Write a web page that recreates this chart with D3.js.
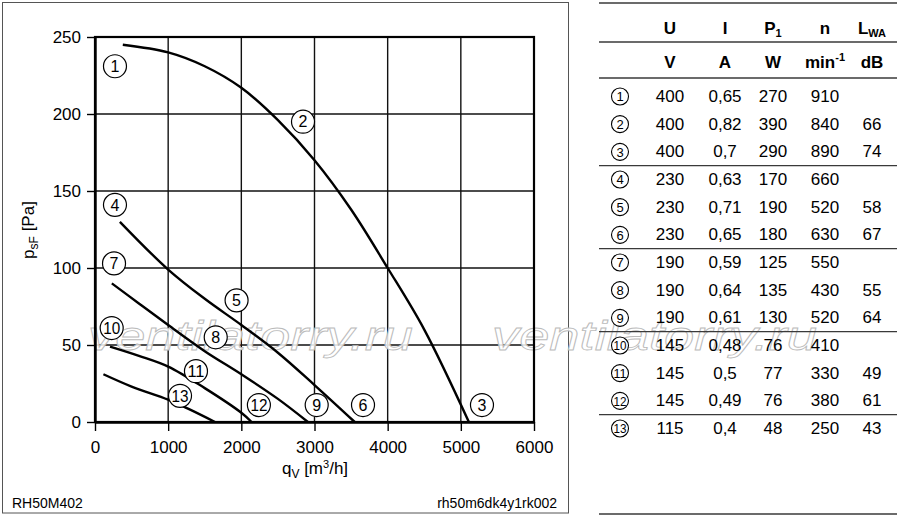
<!DOCTYPE html>
<html>
<head>
<meta charset="utf-8">
<script src="https://cdn.jsdelivr.net/npm/d3@7"></script>
<style>
  html, body { margin: 0; padding: 0; background: #fff; }
  svg { display: block; font-family: "Liberation Sans", Arial, sans-serif; }
</style>
</head>
<body>
<svg id="chart" width="900" height="518"></svg>
<script>
// axis ticks
const xTicks = [0, 1000, 2000, 3000, 4000, 5000, 6000];
const yTicks = [0, 50, 100, 150, 200, 250];

// characteristic curves, [qV m3/h, psF Pa]
const curve123 = [[380, 245], [1000, 240], [1500, 231], [2000, 217], [2500, 196], [3000, 170],
  [3500, 138], [4000, 100], [4500, 60], [5110, 0]];
const curve456 = [[340, 130], [1000, 99], [1500, 80], [2000, 63], [2500, 45], [3000, 24], [3550, 0]];
const curve789 = [[230, 90], [600, 77], [1000, 63], [1500, 46], [2000, 31], [2500, 15], [2910, 0]];
const curve101112 = [[205, 49], [600, 43], [1000, 36], [1500, 22], [2000, 6], [2140, 0]];
const curve13 = [[115, 31], [500, 23], [1000, 14.5], [1300, 8], [1640, 0]];
const curves = [curve123, curve456, curve789, curve101112, curve13];

// circled curve labels
const labelIds = [1, 2, 3, 4, 5, 6, 7, 8, 9, 10, 11, 12, 13];
const labelQ = [273, 2843, 5289, 273, 1935, 3663, 260, 1650, 3030, 228, 1380, 2240, 1162];
const labelP = [231, 195, 11, 141, 79, 11, 103, 55, 11, 61, 33, 11, 17];

// table
const colHeads = ["U", "I", "P", "n", "L"];
const colUnits = ["V", "A", "W", "min", "dB"];
const rowU = ["400", "400", "400", "230", "230", "230", "190", "190", "190", "145", "145", "145", "115"];
const rowI = ["0,65", "0,82", "0,7", "0,63", "0,71", "0,65", "0,59", "0,64", "0,61", "0,48", "0,5", "0,49", "0,4"];
const rowP1 = ["270", "390", "290", "170", "190", "180", "125", "135", "130", "76", "77", "76", "48"];
const rowN = ["910", "840", "890", "660", "520", "630", "550", "430", "520", "410", "330", "380", "250"];
const rowLwa = ["", "66", "74", "", "58", "67", "", "55", "64", "", "49", "61", "43"];
const groupEnds = [3, 6, 9, 12];

const svg = d3.select("#chart");

// outer frame of the diagram
svg.append("rect")
  .attr("x", 2.5).attr("y", 2.5).attr("width", 566).attr("height", 510.5)
  .attr("fill", "none").attr("stroke", "#555").attr("stroke-width", 1);

const x = d3.scaleLinear().domain([0, 6000]).range([95, 534]);
const y = d3.scaleLinear().domain([0, 250]).range([422, 37]);

// grid
const grid = svg.append("g");
grid.selectAll("line.v").data(xTicks.slice(1, -1)).join("line")
  .attr("x1", d => x(d)).attr("x2", d => x(d))
  .attr("y1", y(0)).attr("y2", y(250))
  .attr("stroke", "#111").attr("stroke-width", 1.4);
grid.selectAll("line.h").data(yTicks.slice(1, -1)).join("line")
  .attr("y1", d => y(d)).attr("y2", d => y(d))
  .attr("x1", x(0)).attr("x2", x(6000))
  .attr("stroke", "#111").attr("stroke-width", 1.4);

// watermark
const wm = svg.append("g");
[88, 492].forEach(x0 => {
  wm.append("text")
    .attr("x", x0).attr("y", 350)
    .attr("font-size", 40).attr("font-style", "italic")
    .attr("textLength", 325).attr("lengthAdjust", "spacingAndGlyphs")
    .attr("fill", "#fff").attr("fill-opacity", 0.85)
    .attr("stroke", "#bbb").attr("stroke-width", 0.8)
    .text("ventilatorry.ru");
});

// plot border
svg.append("rect")
  .attr("x", x(0)).attr("y", y(250))
  .attr("width", x(6000) - x(0)).attr("height", y(0) - y(250))
  .attr("fill", "none").attr("stroke", "#000").attr("stroke-width", 2.2);

// axes
const gx = svg.append("g").attr("transform", `translate(0,${y(0)})`)
  .call(d3.axisBottom(x).tickValues(xTicks).tickFormat(d3.format("d"))
    .tickSize(9).tickSizeOuter(0).tickPadding(10));
const gy = svg.append("g").attr("transform", `translate(${x(0)},0)`)
  .call(d3.axisLeft(y).tickValues(yTicks).tickFormat(d3.format("d"))
    .tickSize(8).tickSizeOuter(0).tickPadding(6));
[gx, gy].forEach(g => {
  g.select(".domain").attr("stroke", "#000").attr("stroke-width", 2.4);
  g.selectAll(".tick line").attr("stroke", "#000").attr("stroke-width", 1.4);
  g.selectAll(".tick text").attr("font-size", 17).attr("fill", "#000")
    .attr("font-family", "Liberation Sans, Arial, sans-serif");
});

// axis titles
const yl = svg.append("text")
  .attr("transform", "translate(34,230) rotate(-90)")
  .attr("text-anchor", "middle").attr("font-size", 17);
yl.append("tspan").text("p");
yl.append("tspan").attr("font-size", 12).attr("dy", 4).text("sF");
yl.append("tspan").attr("dy", -4).text(" [Pa]");

const xl = svg.append("text")
  .attr("x", 315).attr("y", 474)
  .attr("text-anchor", "middle").attr("font-size", 17);
xl.append("tspan").text("q");
xl.append("tspan").attr("font-size", 12).attr("dy", 4).text("V");
xl.append("tspan").attr("dy", -4).text(" [m");
xl.append("tspan").attr("font-size", 11).attr("dy", -6).text("3");
xl.append("tspan").attr("dy", 6).text("/h]");

// curves
const line = d3.line()
  .x(d => x(d[0])).y(d => y(d[1]))
  .curve(d3.curveCatmullRom.alpha(0.5));
svg.append("g").selectAll("path").data(curves).join("path")
  .attr("d", line)
  .attr("fill", "none").attr("stroke", "#000").attr("stroke-width", 2.4);

// circled labels on the chart
const lab = svg.append("g").selectAll("g").data(labelIds).join("g")
  .attr("transform", (d, i) => `translate(${x(labelQ[i])},${y(labelP[i])})`);
lab.append("circle").attr("r", 11.5)
  .attr("fill", "#fff").attr("stroke", "#000").attr("stroke-width", 1.2);
lab.append("text")
  .attr("text-anchor", "middle").attr("dy", "0.36em")
  .attr("font-size", 16)
  .attr("textLength", d => d > 9 ? 17 : null)
  .attr("lengthAdjust", "spacingAndGlyphs")
  .text(d => d);

// footer codes
svg.append("text").attr("x", 12).attr("y", 508).attr("font-size", 14).text("RH50M402");
svg.append("text").attr("x", 557).attr("y", 508).attr("font-size", 14)
  .attr("text-anchor", "end").text("rh50m6dk4y1rk002");

// ---- table ----
const colX = [670, 725, 773, 825, 872];
const rowY = d3.scaleLinear().domain([0, 12]).range([102, 434]);
const tbl = svg.append("g").attr("font-size", 17);

const lineYs = [3, 42, 78].concat(groupEnds.map(k => (rowY(k - 1) + rowY(k)) / 2 - 5.5), [514]);
tbl.selectAll("line").data(lineYs).join("line")
  .attr("x1", 599).attr("x2", 897)
  .attr("y1", d => d).attr("y2", d => d)
  .attr("stroke", "#3a3a3a")
  .attr("stroke-width", 1.4);

// header
colHeads.forEach((h, j) => {
  const t = tbl.append("text").attr("x", colX[j]).attr("y", 34)
    .attr("text-anchor", "middle").attr("font-weight", "bold");
  t.append("tspan").text(h);
  if (h === "P") t.append("tspan").attr("font-size", 11).attr("dy", 3).text("1");
  if (h === "L") t.append("tspan").attr("font-size", 11).attr("dy", 3).text("WA");
});
colUnits.forEach((u, j) => {
  const t = tbl.append("text").attr("x", colX[j]).attr("y", 68)
    .attr("text-anchor", "middle").attr("font-weight", "bold");
  t.append("tspan").text(u);
  if (u === "min") t.append("tspan").attr("font-size", 11).attr("dy", -7).text("-1");
});

// rows
const cols = [rowU, rowI, rowP1, rowN, rowLwa];
labelIds.forEach((id, i) => {
  const by = rowY(i);
  const g = tbl.append("g");
  g.append("circle").attr("cx", 620).attr("cy", by - 5.5).attr("r", 8.5)
    .attr("fill", "#fff").attr("stroke", "#000").attr("stroke-width", 1.1);
  g.append("text").attr("x", 620).attr("y", by - 5.5).attr("dy", "0.36em")
    .attr("text-anchor", "middle").attr("font-size", 13)
    .attr("textLength", id > 9 ? 13 : null).attr("lengthAdjust", "spacingAndGlyphs")
    .text(id);
  cols.forEach((c, j) => {
    g.append("text").attr("x", colX[j]).attr("y", by)
      .attr("text-anchor", "middle").text(c[i]);
  });
});
</script>
</body>
</html>
